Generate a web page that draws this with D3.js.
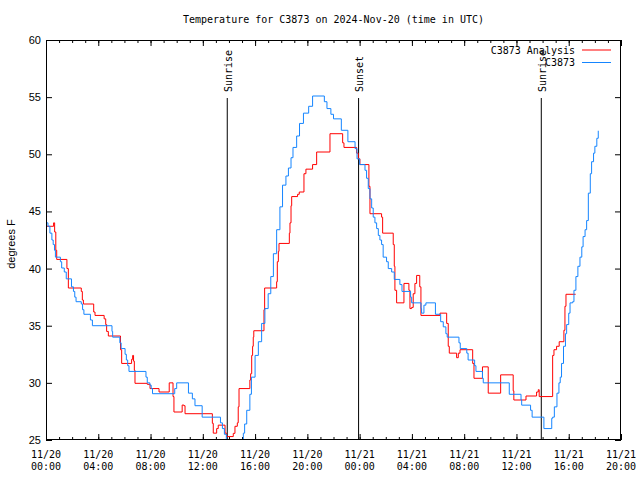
<!DOCTYPE html>
<html><head><meta charset="utf-8">
<script src="https://cdn.jsdelivr.net/npm/d3@7"></script>
<style>
body{margin:0;background:#fff;}
svg{display:block;}
.mono{font-family:"DejaVu Sans Mono",monospace;font-size:10px;fill:#000;}
.sans{font-family:"Liberation Sans",Arial,sans-serif;font-size:11px;fill:#000;}
</style></head><body>
<svg id="c" width="640" height="480"></svg>
<script>
// ---- data (hours since 2024-11-20 00:00 UTC, degrees F) ----
const obsHours = [0,0.15,0.3,0.45,0.55,0.65,0.72,1.1,1.2,1.4,1.55,1.95,2.1,2.2,2.3,2.7,2.8,2.9,3.4,3.55,5.05,5.1,5.65,5.75,6.05,6.15,6.25,6.35,7.65,7.75,7.95,8.05,8.15,9.85,10.0,10.9,11.2,11.4,11.95,13.35,13.5,13.65,13.8,14.2,14.7,14.95,15.1,15.2,15.36,15.6,15.72,16.0,16.25,16.5,16.75,17.0,17.2,17.4,17.65,17.9,18.1,18.36,18.55,18.75,18.9,19.18,19.4,19.7,20.1,20.4,21.3,21.5,21.8,22.0,22.6,23.1,23.65,23.8,24.0,24.41,24.53,24.66,24.79,24.92,25.04,25.17,25.3,25.43,25.55,25.68,25.8,26.06,26.19,26.45,26.65,27.08,27.24,27.9,27.98,28.7,28.74,28.92,29.07,29.8,30.2,30.4,30.6,30.7,31.6,31.7,32.2,32.3,32.8,32.9,33.4,33.46,35.45,36.35,36.4,37.08,37.2,38.1,38.7,38.77,38.9,39.1,39.25,39.35,39.45,39.6,39.75,39.84,40.0,40.1,40.3,40.4,40.55,40.7,40.86,41.0,41.1,41.25,41.37,41.5,41.65,41.75,41.9,42.0,42.15,42.26];
const obsTemps = [44.0,43.7,43.1,42.5,42.1,41.6,41.0,40.6,40.05,39.7,39.1,38.4,38.0,37.5,37.1,36.9,36.4,36.0,35.5,35.0,34.5,34.0,33.5,33.0,32.5,32.0,31.5,31.0,30.5,30.0,29.8,29.5,29.05,29.5,30.0,29.1,28.6,28.0,27.0,26.5,26.0,25.5,24.8,24.2,24.4,24.9,25.6,26.4,27.6,29.0,30.5,32.4,33.6,35.2,36.5,37.8,39.3,41.3,43.4,45.4,47.3,48.1,48.8,49.7,50.6,51.6,52.7,53.6,54.2,55.1,54.6,54.0,53.5,53.1,52.1,51.1,50.5,49.6,49.1,48.6,47.9,47.0,46.1,45.3,44.5,44.0,43.5,42.9,42.5,42.1,41.0,40.6,40.0,39.7,39.05,38.6,38.0,37.5,37.0,36.5,36.1,36.8,37.0,36.0,35.35,34.9,34.3,34.0,33.5,33.0,32.6,32.0,31.5,31.0,30.4,30.0,29.0,28.5,28.05,27.6,27.0,26.0,26.9,27.0,27.9,29.1,30.0,30.5,31.7,33.2,34.3,35.1,36.1,37.0,37.1,38.1,39.3,40.2,41.0,41.9,42.8,43.4,44.2,46.6,48.3,49.35,50.1,50.7,51.4,52.06];
const anaHours = [0,0.58,0.66,0.75,0.82,1.6,1.71,2.7,2.78,2.86,3.65,3.75,4.45,4.57,4.64,4.77,5.7,5.79,6.55,6.63,6.7,6.76,6.81,7.75,7.96,8.65,9.43,9.72,9.79,10.42,10.55,10.64,12.73,12.8,13.06,13.18,13.7,13.82,14.33,14.46,14.64,14.71,14.77,15.6,15.66,15.74,15.81,15.86,15.9,16.68,16.73,17.65,17.7,17.78,17.83,18.62,18.67,18.75,18.8,19.25,19.38,19.74,19.89,20.4,20.71,21.73,22.7,22.8,23.77,23.9,24.02,24.71,24.79,25.68,25.76,26.57,26.65,26.7,26.83,27.39,27.77,27.85,27.98,28.1,28.23,28.36,28.6,28.69,30.15,30.66,30.78,30.86,31.42,31.55,31.68,32.65,32.75,33.4,33.84,34.79,35.75,35.8,36.73,37.54,37.67,37.74,38.77,38.87,39.07,39.27,39.63,39.71,39.79,40.53];
const anaTemps = [43.7,44.0,43.2,41.6,40.8,40.0,38.3,38.0,37.25,36.9,36.2,35.9,35.6,35.1,34.5,34.1,32.9,31.7,32.06,32.4,31.9,31.1,29.96,29.87,29.5,29.2,30.0,28.8,27.45,28.06,28.0,27.3,26.46,25.6,26.0,26.3,25.6,25.3,25.58,26.2,26.5,27.9,29.5,30.25,30.8,32.4,33.2,34.0,34.56,36.4,38.3,38.85,40.6,41.5,42.2,43.1,44.0,45.5,46.3,46.5,46.7,48.3,48.7,49.1,50.2,51.8,51.0,50.6,50.1,49.6,49.1,47.2,44.8,44.5,43.1,42.1,40.2,38.1,37.0,38.7,38.1,36.5,36.6,37.8,38.7,39.4,38.4,35.9,36.1,35.2,33.2,32.6,32.2,32.6,32.9,31.7,30.4,31.4,29.1,30.7,29.3,28.5,28.85,29.2,29.4,28.8,32.4,32.9,33.2,33.6,34.6,36.7,37.75,37.75];
const eventHours = [13.87, 23.92, 37.9];
const eventLabels = ["Sunrise", "Sunset", "Sunrise"];
const tickHours = [0,4,8,12,16,20,24,28,32,36,40,44];
const tickDates = ["11/20","11/20","11/20","11/20","11/20","11/20","11/21","11/21","11/21","11/21","11/21","11/21"];
const tickTimes = ["00:00","04:00","08:00","12:00","16:00","20:00","00:00","04:00","08:00","12:00","16:00","20:00"];
const yTicks = [25,30,35,40,45,50,55,60];
const seriesNames = ["C3873 Analysis", "C3873"];
const seriesColors = ["#ff0000", "#1585ff"];

// ---- layout ----
const L = 46, R = 621, T = 40, B = 440;
const svg = d3.select("#c");
const x = d3.scaleLinear().domain([0, 44]).range([L, R]);
const y = d3.scaleLinear().domain([25, 60]).range([B, T]);

svg.append("defs").append("clipPath").attr("id","clip")
  .append("rect").attr("x",L).attr("y",T).attr("width",R-L).attr("height",B-T);

// title
svg.append("text").attr("class","mono").attr("x",(L+R)/2).attr("y",23)
  .attr("text-anchor","middle").text("Temperature for C3873 on 2024-Nov-20 (time in UTC)");

// y label
svg.append("text").attr("class","sans").attr("transform","translate(15,244) rotate(-90)")
  .attr("text-anchor","middle").text("degrees F");

const minor = d3.range(0, 45, 1);
function styleAxis(g){ g.select(".domain").remove(); g.selectAll("line").attr("stroke","#000"); }

// bottom/top ticks
svg.append("g").attr("transform",`translate(0,${B})`)
  .call(d3.axisBottom(x).tickValues(minor).tickSize(-3).tickFormat("")).call(styleAxis);
svg.append("g").attr("transform",`translate(0,${B})`)
  .call(d3.axisBottom(x).tickValues(tickHours).tickSize(-6).tickFormat("")).call(styleAxis);
svg.append("g").attr("transform",`translate(0,${T})`)
  .call(d3.axisTop(x).tickValues(minor).tickSize(-3).tickFormat("")).call(styleAxis);
svg.append("g").attr("transform",`translate(0,${T})`)
  .call(d3.axisTop(x).tickValues(tickHours).tickSize(-6).tickFormat("")).call(styleAxis);

// x labels
const xl = svg.append("g").attr("class","mono");
tickHours.forEach((h,i)=>{
  const t = xl.append("text").attr("x", x(h)).attr("text-anchor","middle");
  t.append("tspan").attr("x",x(h)).attr("y",458).text(tickDates[i]);
  t.append("tspan").attr("x",x(h)).attr("y",470).text(tickTimes[i]);
});

// y axes
svg.append("g").attr("transform",`translate(${L},0)`)
  .call(d3.axisLeft(y).tickValues(yTicks).tickSize(-6).tickPadding(5).tickFormat(d3.format("d")))
  .call(styleAxis)
  .call(g=>g.selectAll("text").attr("class","sans").attr("font-family",null).attr("font-size",null));
svg.append("g").attr("transform",`translate(${R},0)`)
  .call(d3.axisRight(y).tickValues(yTicks).tickSize(-6).tickFormat("")).call(styleAxis);

// events
eventHours.forEach((h,i)=>{
  svg.append("line").attr("x1",x(h)).attr("x2",x(h)).attr("y1",98).attr("y2",B)
    .attr("stroke","#000").attr("stroke-width",1);
  svg.append("text").attr("class","mono")
    .attr("transform",`translate(${x(h)+4.5},92) rotate(-90)`).text(eventLabels[i]);
});

// series
const line = d3.line().curve(d3.curveStepAfter).x(d=>x(d[0])).y(d=>y(d[1]));
const ana = anaHours.map((h,i)=>[h, anaTemps[i]]);
const obs = obsHours.map((h,i)=>[h, obsTemps[i]]);
const pg = svg.append("g").attr("clip-path","url(#clip)");
pg.append("path").datum(ana).attr("d",line).attr("fill","none").attr("stroke",seriesColors[0]).attr("stroke-width",1);
pg.append("path").datum(obs).attr("d",line).attr("fill","none").attr("stroke",seriesColors[1]).attr("stroke-width",1);

// frame
svg.append("rect").attr("x",L+0.5).attr("y",T+0.5).attr("width",R-L-1).attr("height",B-T-1)
  .attr("fill","none").attr("stroke","#000").attr("stroke-width",1);

// legend
seriesNames.forEach((n,i)=>{
  const yy = 50 + i*12.5;
  svg.append("text").attr("class","mono").attr("x",575).attr("y",yy+3.5).attr("text-anchor","end").text(n);
  svg.append("line").attr("x1",582).attr("x2",611).attr("y1",yy).attr("y2",yy)
    .attr("stroke",seriesColors[i]).attr("stroke-width",1);
});
</script>
</body></html>
